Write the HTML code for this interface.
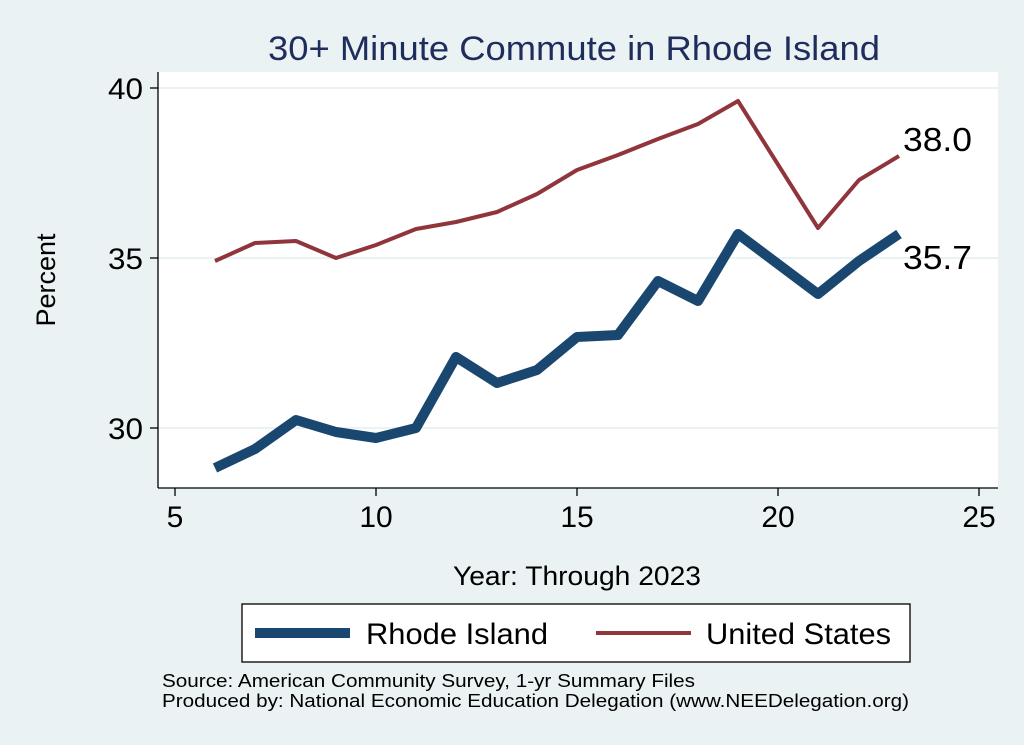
<!DOCTYPE html>
<html><head><meta charset="utf-8"><style>
html,body{margin:0;padding:0;background:#eaf2f3;}
svg{display:block;font-family:"Liberation Sans",Arial,sans-serif;}
</style></head><body>
<svg width="1024" height="745" viewBox="0 0 1024 745" xmlns="http://www.w3.org/2000/svg">
<rect width="1024" height="745" fill="#eaf2f3"/>
<text x="268" y="60" font-size="34" fill="#1f2d5c" textLength="612" lengthAdjust="spacingAndGlyphs">30+ Minute Commute in Rhode Island</text>
<rect x="158" y="72" width="840" height="416" fill="#ffffff"/>
<g stroke="#eaf2f3" stroke-width="2">
<line x1="158" y1="88" x2="998" y2="88"/>
<line x1="158" y1="258" x2="998" y2="258"/>
<line x1="158" y1="428" x2="998" y2="428"/>
</g>
<g stroke="#000" stroke-width="1.3" fill="none">
<line x1="158" y1="72" x2="158" y2="488"/>
<line x1="158" y1="488" x2="998" y2="488"/>
<line x1="150" y1="88" x2="158" y2="88"/>
<line x1="150" y1="258" x2="158" y2="258"/>
<line x1="150" y1="428" x2="158" y2="428"/>
<line x1="175" y1="488" x2="175" y2="496"/>
<line x1="376" y1="488" x2="376" y2="496"/>
<line x1="577" y1="488" x2="577" y2="496"/>
<line x1="778" y1="488" x2="778" y2="496"/>
<line x1="979" y1="488" x2="979" y2="496"/>
</g>
<g font-size="30" fill="#000">
<text x="108" y="99" textLength="35" lengthAdjust="spacingAndGlyphs">40</text>
<text x="108" y="269" textLength="35" lengthAdjust="spacingAndGlyphs">35</text>
<text x="108" y="439" textLength="35" lengthAdjust="spacingAndGlyphs">30</text>
</g>
<g font-size="30" fill="#000" text-anchor="middle">
<text x="175" y="527">5</text><text x="376" y="527">10</text><text x="577" y="527">15</text><text x="778" y="527">20</text><text x="979" y="527">25</text>
</g>
<text x="453" y="585" font-size="27" textLength="248" lengthAdjust="spacingAndGlyphs">Year: Through 2023</text>
<text transform="translate(55,280) rotate(-90)" font-size="27" text-anchor="middle">Percent</text>
<polyline fill="none" stroke="#90353b" stroke-width="4" stroke-linejoin="round" points="215,261 255,243 296,241 336,258 376,245 416,229 456,222 497,212 537,194 577,170 618,155 658,139 698,124 738,101 818,228 859,180 899,156"/>
<polyline fill="none" stroke="#1a476f" stroke-width="10" stroke-linejoin="round" points="215,468 255,449 296,420 336,432 376,438 416,428 456,357 497,383 537,370 577,337 618,335 658,281 698,301 738,234 818,294 859,261 899,234"/>
<text x="903" y="151" font-size="33" textLength="69" lengthAdjust="spacingAndGlyphs">38.0</text>
<text x="903" y="269" font-size="33" textLength="69" lengthAdjust="spacingAndGlyphs">35.7</text>
<rect x="242" y="604" width="668" height="58" fill="#fff" stroke="#000" stroke-width="1.3"/>
<line x1="255" y1="633" x2="350" y2="633" stroke="#1a476f" stroke-width="10"/>
<text x="366" y="644" font-size="30" textLength="182" lengthAdjust="spacingAndGlyphs">Rhode Island</text>
<line x1="596" y1="633" x2="691" y2="633" stroke="#90353b" stroke-width="4"/>
<text x="706" y="644" font-size="30" textLength="185" lengthAdjust="spacingAndGlyphs">United States</text>
<text x="162" y="687" font-size="18" textLength="533" lengthAdjust="spacingAndGlyphs">Source: American Community Survey, 1-yr Summary Files</text>
<text x="162" y="707" font-size="18" textLength="747" lengthAdjust="spacingAndGlyphs">Produced by: National Economic Education Delegation (www.NEEDelegation.org)</text>
</svg>
</body></html>
